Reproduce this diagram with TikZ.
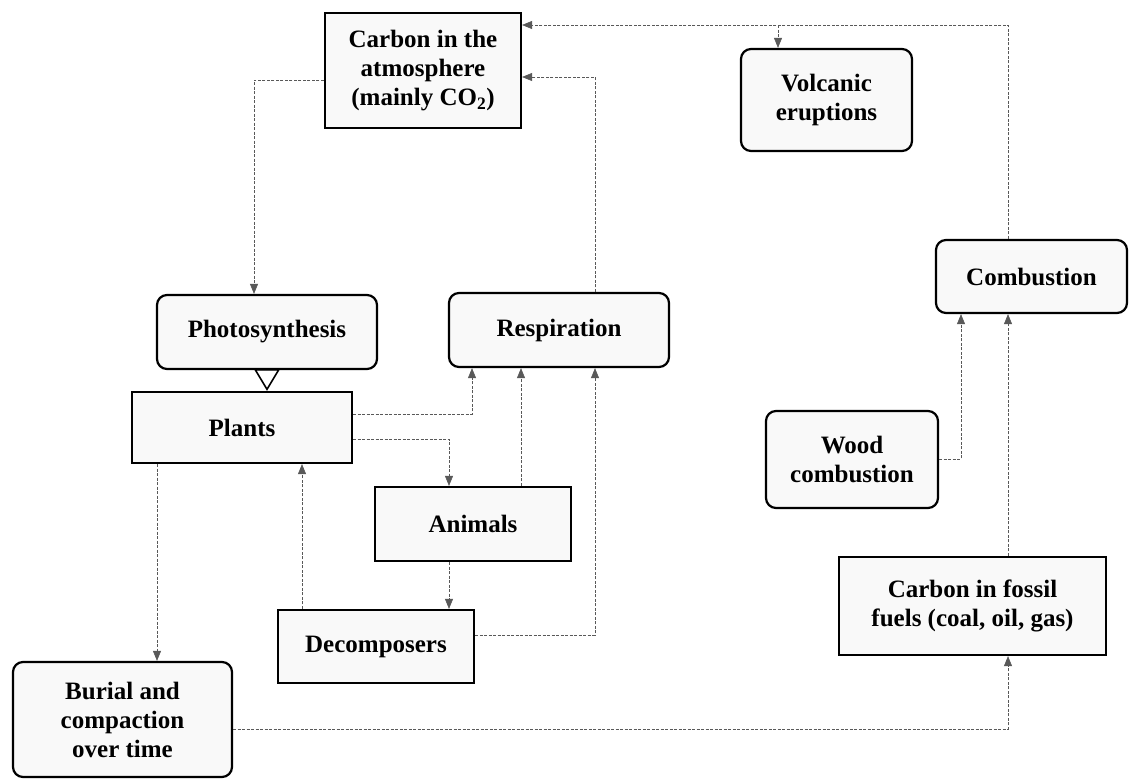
\documentclass[tikz,border=0pt]{standalone}
\usepackage{fontspec}
\setmainfont{Liberation Serif}
\usetikzlibrary{arrows.meta,positioning}

\begin{document}
\begin{tikzpicture}[x=1pt, y=-1pt,
  box/.style={draw, line width=2.2pt, fill=gray!5, align=center,
    font=\fontsize{25}{29}\selectfont\bfseries, inner sep=2pt},
  rbox/.style={box, rounded corners=10pt},
  flow/.style={gray!70!black, line width=0.6pt, dash pattern=on 3pt off 1.5pt,
    -{Triangle[length=10pt, width=8pt]}},
  merge/.style={black, line width=1.6pt, -{Triangle[open, length=22pt, width=26pt]}}]
\useasboundingbox (0,0) rectangle (1131,779);

% Stores
\node[box, minimum width=196, minimum height=115] (atmo) at (423,70.5) {Carbon in the\\atmosphere\\(mainly CO\textsubscript{2})};
\node[box, minimum width=220, minimum height=71] (plants) at (242,427.5) {Plants};
\node[box, minimum width=196, minimum height=74] (animals) at (473,524) {Animals};
\node[box, minimum width=196, minimum height=73] (decomp) at (376,646.5) {Decomposers};
\node[box, minimum width=267, minimum height=98] (fossil) at (972.5,606) {Carbon in fossil\\fuels (coal, oil, gas)};

% Processes
\node[rbox, minimum width=171, minimum height=102] (volc) at (826.5,100) {Volcanic\\eruptions};
\node[rbox, minimum width=220, minimum height=74] (photo) at (267,332) {Photosynthesis};
\node[rbox, minimum width=220, minimum height=74] (resp) at (559,330) {Respiration};
\node[rbox, minimum width=191, minimum height=73] (comb) at (1031.5,276.5) {Combustion};
\node[rbox, minimum width=172, minimum height=97] (wood) at (852,459.5) {Wood\\combustion};
\node[rbox, minimum width=219, minimum height=115] (burial) at (122.5,719.5) {Burial and\\compaction\\over time};

% Bends
\coordinate (jTop) at (1008,25);
\coordinate (jVolc) at (778,25);
\coordinate (jResp) at (595,77);
\coordinate (jPhoto) at (254,80);
\coordinate (jTri) at (267,380);
\coordinate (jPlRe) at (472,414);
\coordinate (jPlAn) at (449,439);
\coordinate (jAnRe) at (521,480);
\coordinate (jDeRe) at (595,635);
\coordinate (jDePl) at (302,560);
\coordinate (jBur) at (157,560);
\coordinate (jFos) at (1008,729);
\coordinate (jWood) at (961,459);

% Connections
\draw[flow] (comb.north -| jTop) |- (atmo.east |- jTop);
\draw[flow] (jVolc) -- (volc.north -| jVolc);
\draw[flow] (resp.north -| jResp) |- (atmo.east |- jResp);
\draw[flow] (atmo.west |- jPhoto) -| (photo.north -| jPhoto);
\draw[merge] (photo.south -| jTri) -- (plants.north -| jTri);
\draw[flow] (plants.east |- jPlRe) -| (resp.south -| jPlRe);
\draw[flow] (plants.east |- jPlAn) -| (animals.north -| jPlAn);
\draw[flow] (animals.north -| jAnRe) -- (resp.south -| jAnRe);
\draw[flow] (decomp.east |- jDeRe) -| (resp.south -| jDeRe);
\draw[flow] (animals.south -| jPlAn) -- (decomp.north -| jPlAn);
\draw[flow] (decomp.north -| jDePl) -- (plants.south -| jDePl);
\draw[flow] (plants.south -| jBur) -- (burial.north -| jBur);
\draw[flow] (burial.east |- jFos) -| (fossil.south -| jFos);
\draw[flow] (fossil.north -| jFos) -- (comb.south -| jFos);
\draw[flow] (wood.east |- jWood) -| (comb.south -| jWood);
\end{tikzpicture}
\end{document}
